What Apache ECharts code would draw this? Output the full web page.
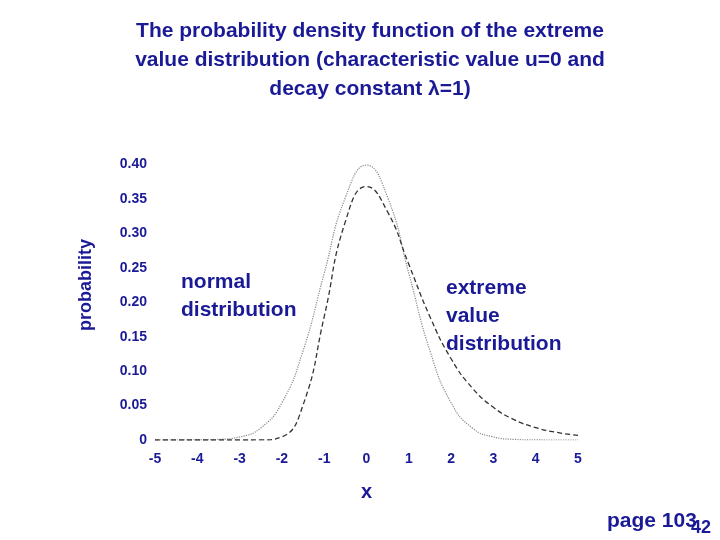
<!DOCTYPE html>
<html><head><meta charset="utf-8">
<script src="https://cdn.jsdelivr.net/npm/echarts@6/dist/echarts.min.js"></script>
<style>html,body{margin:0;padding:0;background:#fff}#c{width:720px;height:540px}</style>
</head><body><div id="c"></div>
<script>
const xs = [-5,-4.5,-4,-3.5,-3,-2.5,-2,-1.5,-1,-0.5,0,0.5,1,1.5,2,2.5,3,3.5,4,4.5,5];
const normalVals = [0,0,0.0001,0.0009,0.0044,0.0175,0.054,0.1295,0.242,0.352,0.399,0.352,0.242,0.1295,0.054,0.0175,0.0044,0.0009,0.0001,0,0];
const extremeVals = [0,0,0,0,0,0.0001,0.0046,0.0507,0.179,0.317,0.368,0.331,0.255,0.179,0.118,0.0756,0.0474,0.0293,0.018,0.011,0.0067];
const yTicks = ['0','0.05','0.10','0.15','0.20','0.25','0.30','0.35','0.40'];
const blue = '#1a1a96';
const chart = echarts.init(document.getElementById('c'));
chart.setOption({
  animation:false,
  title:{text:'The probability density function of the extreme\nvalue distribution (characteristic value u=0 and\ndecay constant \u03bb=1)',
    left:365, top:12, textAlign:'center',
    textStyle:{fontFamily:'Liberation Sans',fontSize:21,fontWeight:'bold',color:blue,lineHeight:29}},
  grid:{left:155,right:142,top:130,bottom:100},
  xAxis:{type:'value',min:-5,max:5,interval:1,name:'x',nameLocation:'middle',nameGap:42,
    nameTextStyle:{fontFamily:'Liberation Sans',fontSize:20,fontWeight:'bold',color:blue},
    axisLine:{show:false},axisTick:{show:false},splitLine:{show:false},
    axisLabel:{color:blue,fontFamily:'Liberation Sans',fontSize:14,fontWeight:'bold',margin:12}},
  yAxis:{type:'value',min:0,max:0.45,interval:0.05,name:'probability',nameLocation:'middle',nameGap:60,nameRotate:90,
    nameTextStyle:{fontFamily:'Liberation Sans',fontSize:18,fontWeight:'bold',color:blue},
    axisLine:{show:false},axisTick:{show:false},splitLine:{show:false},
    axisLabel:{color:blue,fontFamily:'Liberation Sans',fontSize:14,fontWeight:'bold',margin:8,
      formatter:v=>{const i=Math.round(v/0.05);return i<yTicks.length?yTicks[i]:'';}}},
  series:[
    {type:'line',smooth:true,symbol:'none',data:xs.map((x,i)=>[x,normalVals[i]]),
      lineStyle:{color:'#888',width:1.2,type:'dotted'}},
    {type:'line',smooth:true,symbol:'none',data:xs.map((x,i)=>[x,extremeVals[i]]),
      lineStyle:{color:'#333',width:1.3,type:[5,3]}}
  ],
  graphic:[
    {type:'text',left:181,top:268,style:{text:'normal\ndistribution',font:'bold 21px "Liberation Sans"',fill:blue,lineHeight:28}},
    {type:'text',left:446,top:274,style:{text:'extreme\nvalue\ndistribution',font:'bold 21px "Liberation Sans"',fill:blue,lineHeight:28}},
    {type:'text',left:607,top:511,style:{text:'page 103',font:'bold 21px "Liberation Sans"',fill:blue}},
    {type:'text',left:691,top:519,style:{text:'42',font:'bold 18px "Liberation Sans"',fill:blue}}
  ]
});
</script></body></html>
